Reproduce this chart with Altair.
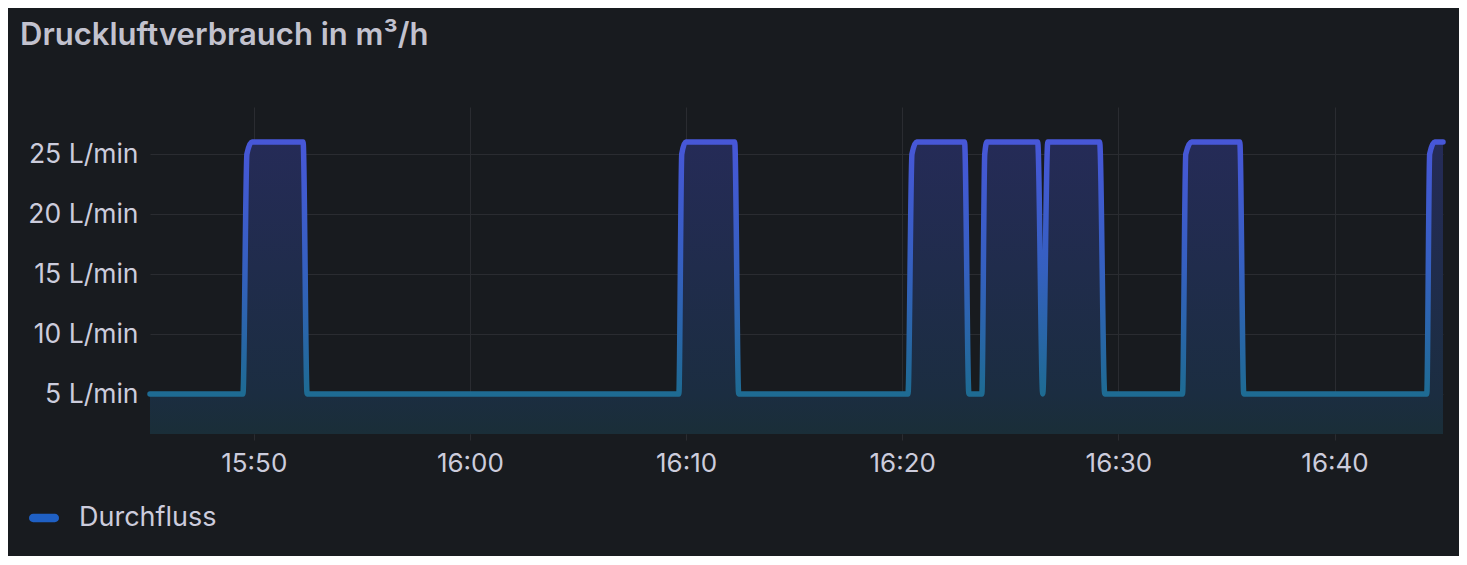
import altair as alt
import pandas as pd

# ---- data ----
times = ["15:45:12", "15:49:30", "15:49:41", "15:49:55", "15:52:17", "15:52:28",
         "16:09:40", "16:09:48", "16:09:59", "16:12:15", "16:12:26",
         "16:20:16", "16:20:27", "16:20:40", "16:22:53", "16:23:05",
         "16:23:41", "16:23:49", "16:23:55", "16:26:16", "16:26:30", "16:26:44",
         "16:29:08", "16:29:22", "16:32:58", "16:33:07", "16:33:23", "16:35:37",
         "16:35:48", "16:44:16", "16:44:24", "16:44:38", "16:45:01"]
flow = [5, 5, 25, 26, 26, 5,
        5, 25, 26, 26, 5,
        5, 25, 26, 26, 5,
        5, 25, 26, 26, 5, 26,
        26, 5, 5, 25, 26, 26,
        5, 5, 25, 26, 26]
series = ["Durchfluss"]
y_ticks = [5, 10, 15, 20, 25]
x_tick_labels = ["15:50", "16:00", "16:10", "16:20", "16:30", "16:40"]
x_start, x_end = "15:45:12", "16:45:01"
y_min, y_max = 1.667, 28.92

DAY = "2024-01-01T"
df = pd.DataFrame({"time": [DAY + t for t in times], "flow": flow, "series": series[0]})


def dt(hms):
    parts = [int(p) for p in hms.split(":")]
    while len(parts) < 3:
        parts.append(0)
    return alt.DateTime(year=2024, month=1, date=1, hours=parts[0], minutes=parts[1], seconds=parts[2])


BG = "#181b1f"
GRID = "#2a2c31"
TEXT = "#ccccdc"
FONT = "Inter"

line_grad = alt.LinearGradient(
    gradient="linear", x1=0, y1=0, x2=0, y2=1,
    stops=[alt.GradientStop(offset=0, color="#4757d8"),
           alt.GradientStop(offset=0.5, color="#3560c0"),
           alt.GradientStop(offset=1, color="#1e6b93")])
fill_grad = alt.LinearGradient(
    gradient="linear", x1=0, y1=0, x2=0, y2=1,
    stops=[alt.GradientStop(offset=0, color="#252b57"),
           alt.GradientStop(offset=0.86, color="#1b2d41"),
           alt.GradientStop(offset=1, color="#1a2e38")])

x_enc = alt.X("time:T",
              scale=alt.Scale(domain=[dt(x_start), dt(x_end)]),
              axis=alt.Axis(title=None, format="%H:%M", values=[dt(t) for t in x_tick_labels],
                            grid=True, gridColor=GRID, domain=False, ticks=True,
                            tickColor=GRID, tickSize=6, labelPadding=10,
                            labelFontSize=26, labelColor=TEXT, labelFont=FONT))
y_scale = alt.Scale(domain=[y_min, y_max], nice=False, zero=False)
y_enc = alt.Y("flow:Q", scale=y_scale,
              axis=alt.Axis(title=None, values=y_ticks, labelExpr="datum.value + ' L/min'",
                            grid=True, gridColor=GRID, domain=False, ticks=False,
                            labelPadding=12, labelFontSize=26.5, labelColor=TEXT, labelFont=FONT))

base = alt.Chart(df)

area = base.mark_area(fill=fill_grad, interpolate="monotone").encode(
    x=x_enc, y=y_enc, y2=alt.datum(y_min))

line = base.mark_line(stroke=line_grad, strokeWidth=5.5, strokeJoin="round",
                      strokeCap="round", interpolate="monotone").encode(x="time:T", y="flow:Q")

pill = ("M-0.72,-0.28 L0.72,-0.28 A0.28,0.28 0 0 1 0.72,0.28 "
        "L-0.72,0.28 A0.28,0.28 0 0 1 -0.72,-0.28 Z")
legend_layer = base.transform_filter("false").mark_square(opacity=1).encode(
    x="time:T", y="flow:Q",
    color=alt.Color("series:N",
                    scale=alt.Scale(domain=series, range=["#1f60c4"]),
                    legend=alt.Legend(title=None, orient="none", legendX=-121, legendY=396,
                                      symbolType=pill, symbolSize=900, symbolStrokeWidth=0,
                                      symbolOpacity=1, labelOffset=20, labelFontSize=27,
                                      labelColor=TEXT, labelFont=FONT, padding=0)))

chart = alt.layer(area, line, legend_layer).properties(
    width=1293, height=327,
    padding={"left": 142, "top": 99, "right": 16, "bottom": 122},
    autosize=alt.AutoSizeParams(type="none"),
    background=BG,
    title=alt.TitleParams("Druckluftverbrauch in m³/h", anchor="start", frame="group",
                          dx=-130, offset=31, baseline="alphabetic", fontSize=31,
                          fontWeight=600, color="#c2c2ce", font=FONT),
).configure_view(stroke=None, fill=BG)

chart.save("out.html", embed_options={"renderer": "svg", "actions": False})
